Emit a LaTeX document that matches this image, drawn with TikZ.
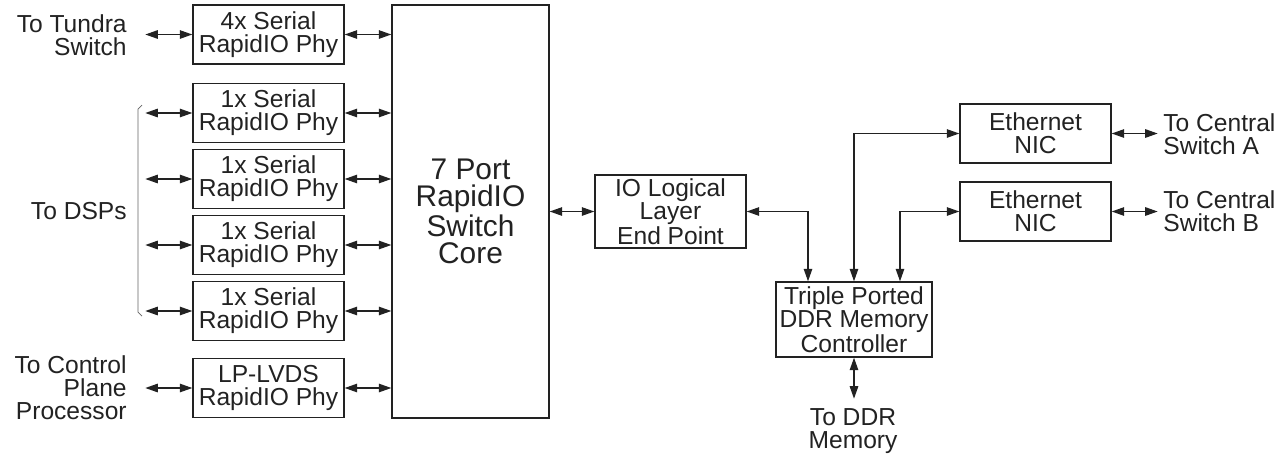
\documentclass[tikz,border=0pt]{standalone}
\usepackage{fontspec}
\setmainfont{Liberation Sans}
\usepackage{tikz}
\usepackage{xcolor}
\usetikzlibrary{arrows.meta,calc,positioning}
\definecolor{ink}{HTML}{222222}

\begin{document}
\begin{tikzpicture}[
      x=0.02cm, y=-0.02cm,
      phy/.style={draw=ink, line width=0.8pt, minimum height=1.18cm, minimum width=3.02cm, inner sep=0pt, align=center, text=ink, font=\fontsize{14}{13}\selectfont},
      corebox/.style={draw=ink, line width=0.8pt, minimum height=8.26cm, minimum width=3.14cm, inner sep=0pt, align=center, text=ink, font=\fontsize{17}{15.4}\selectfont},
      tag/.style={inner sep=0pt, align=right, text=ink, font=\fontsize{14}{13}\selectfont},
      biarr/.style={{Triangle[length=2.5mm,width=1.7mm]}-{Triangle[length=2.5mm,width=1.7mm]}, line width=0.7pt, draw=ink}
  ]
    \useasboundingbox (0,0) rectangle (1285,454);

    % switch core and its ports
    \node[corebox] (core) at (470.5,211.5) {7 Port\\RapidIO\\Switch\\Core};
    \node[phy] (phyA) at (268.5,34.5) {4x Serial\\RapidIO Phy};
    \node[phy] (dsp1) at (268.5,113) {1x Serial\\RapidIO Phy};
    \node[phy] (dsp2) at (268.5,179) {1x Serial\\RapidIO Phy};
    \node[phy] (dsp3) at (268.5,245) {1x Serial\\RapidIO Phy};
    \node[phy] (dsp4) at (268.5,311) {1x Serial\\RapidIO Phy};
    \node[phy] (lvds) at (268.5,388) {LP-LVDS\\RapidIO Phy};
    \draw[biarr] (phyA.east) -- (phyA.east -| core.west);
    \draw[biarr] (dsp1.east) -- (dsp1.east -| core.west);
    \draw[biarr] (dsp2.east) -- (dsp2.east -| core.west);
    \draw[biarr] (dsp3.east) -- (dsp3.east -| core.west);
    \draw[biarr] (dsp4.east) -- (dsp4.east -| core.west);
    \draw[biarr] (lvds.east) -- (lvds.east -| core.west);

    % outside links on the left
    \node[tag, anchor=east] (tundra) at (127,35) {To Tundra\\Switch};
    \node[tag, anchor=east] (dsps) at (127,211) {To DSPs};
    \node[tag, anchor=east] (ctrl) at (127,388) {To Control\\Plane\\Processor};
    \draw[biarr] (phyA.west) -- ++(-47,0);
    \draw[biarr] (dsp1.west) -- ++(-47,0);
    \draw[biarr] (dsp2.west) -- ++(-47,0);
    \draw[biarr] (dsp3.west) -- ++(-47,0);
    \draw[biarr] (dsp4.west) -- ++(-47,0);
    \draw[biarr] (lvds.west) -- ++(-47,0);
    \draw[ink!70, line width=0.4pt] (142,105) -- (138,109) -- (138,312) -- (142,316);

    % end point and memory
    \node[phy, minimum height=1.46cm] (io) at (670.5,211.5) {IO Logical\\Layer\\End Point};
    \node[phy, minimum width=3.12cm, minimum height=1.5cm] (ddr) at (854,319.5) {Triple Ported\\DDR Memory\\Controller};
    \node[tag, align=center, anchor=north] (ddrmem) at (853,408) {To DDR\\Memory};
    \draw[biarr] (core.east |- io.west) -- (io.west);
    \draw[biarr] (io.east) -| ($(ddr.north)+(-46,0)$);
    \draw[biarr] (ddr.south) -- ++(0,41);

    % ethernet
    \node[phy] (nicA) at (1035.5,133.5) {Ethernet\\NIC};
    \node[phy] (nicB) at (1035.5,211.5) {Ethernet\\NIC};
    \node[tag, align=left, anchor=west] (centA) at (1163,134) {To Central\\Switch A};
    \node[tag, align=left, anchor=west] (centB) at (1163,211) {To Central\\Switch B};
    \draw[biarr] (ddr.north) |- (nicA.west);
    \draw[biarr] ($(ddr.north)+(46,0)$) |- (nicB.west);
    \draw[biarr] (nicA.east) -- ++(46,0);
    \draw[biarr] (nicB.east) -- ++(46,0);
\end{tikzpicture}
\end{document}
